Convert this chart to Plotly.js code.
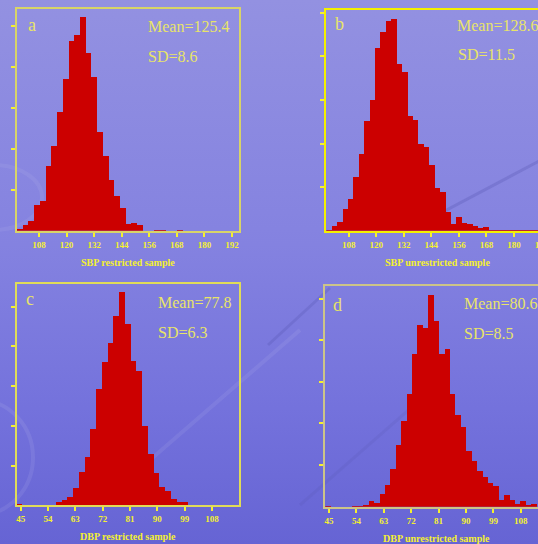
<!DOCTYPE html>
<html>
<head>
<meta charset="utf-8">
<script src="https://cdn.plot.ly/plotly-3.0.1.min.js"></script>
<style>
html,body{margin:0;padding:0;overflow:hidden;width:538px;height:544px;}
body{background:linear-gradient(to bottom,#9391e1 0%,#8482e0 45%,#7472dc 75%,#6664d4 100%);}
#chart{width:560px;height:544px;}
</style>
</head>
<body>
<div id="chart"></div>
<script>
// ---- data ----
// a: SBP restricted sample
const aBinStart = 98.43, aBinWidth = 2.49;
const aCounts = [4,14,24,63,72,158,207,289,369,463,477,521,433,374,240,183,123,85,55,16,19,14,0,0,2.5,2.5,0,0,2.5];
// b: SBP unrestricted sample
const bBinStart = 98.25, bBinWidth = 2.36;
const bCounts = [2,11,20,50,73,123,176,252,300,419,456,482,485,383,365,263,254,199,191,151,97,88,43,16,31,18,15,11,6,8,2,2,1,2,1,1,2,1,1];
// c: DBP restricted sample
const cBinStart = 43.4, cBinWidth = 1.89;
const cCounts = [2.5,0,0,0,0,1,1,9,13,21,44,84,122,192,293,361,409,477,537,456,363,338,200,129,81,46,36,16,9,9];
// d: DBP unrestricted sample
const dBinStart = 43.8, dBinWidth = 1.78;
const dCounts = [2,0,0,0,0,2,2,4,14,10,31,52,91,148,206,271,368,437,429,509,446,368,379,271,220,192,134,110,86,71,57,50,16,28,16,6,14,4,6];

const sbpTicks = [108,120,132,144,156,168,180,192];
const dbpTicks = [45,54,63,72,81,90,99,108];
const yTicks = [100,200,300,400,500];

const panelLetters = ['a','b','c','d'];
const meanLabels = ['Mean=125.4','Mean=128.6','Mean=77.8','Mean=80.6'];
const sdLabels = ['SD=8.6','SD=11.5','SD=6.3','SD=8.5'];
const axisTitles = ['SBP restricted sample','SBP unrestricted sample','DBP restricted sample','DBP unrestricted sample'];

// ---- layout geometry (pixels) ----
const W = 560, H = 544;
const fx = p => p / W;
const fy = p => 1 - p / H;

const panels = [
  {start:aBinStart,width:aBinWidth,counts:aCounts,ticks:sbpTicks,xr:[98.43,195.17],ytop:541,
   px:[17,239.3],py:[9,230.7],line:'#d8d468',letter:[26,25],mean:[146,26.7],sd:[146,56.7]},
  {start:bBinStart,width:bBinWidth,counts:bCounts,ticks:sbpTicks,xr:[98.25,195.07],ytop:507,
   px:[326.3,548.6],py:[9.7,230.7],line:'#f4f000',letter:[333,24],mean:[455,25.7],sd:[456,55]},
  {start:cBinStart,width:cBinWidth,counts:cCounts,ticks:dbpTicks,xr:[43.78,117.0],ytop:556,
   px:[17,239.3],py:[284.3,505.3],line:'#e0dc58',letter:[24,299.3],mean:[156,302],sd:[156,332]},
  {start:dBinStart,width:dBinWidth,counts:dCounts,ticks:dbpTicks,xr:[43.78,116.8],ytop:531,
   px:[325.3,547.6],py:[285.7,506.7],line:'#ccc488',letter:[331,305.3],mean:[461.5,303],sd:[461.5,333]}
];

const data = [];
const layout = {
  width: W, height: H,
  margin:{l:0,r:0,t:0,b:0,pad:0},
  paper_bgcolor:'rgba(0,0,0,0)', plot_bgcolor:'rgba(0,0,0,0)',
  showlegend:false, bargap:0,
  annotations:[], shapes:[]
};

const serif = 'Liberation Serif, Times New Roman, serif';
const tickYellow = '#f4f030';
const textYellow = '#e8e468';

// decorative background strokes
layout.shapes.push(
  {type:'circle',xref:'paper',yref:'paper',x0:fx(-75),x1:fx(33),y0:fy(515),y1:fy(400),line:{color:'rgba(255,255,255,0.08)',width:4},layer:'below'},
  {type:'circle',xref:'paper',yref:'paper',x0:fx(-55),x1:fx(42),y0:fy(230),y1:fy(165),line:{color:'rgba(255,255,255,0.06)',width:4},layer:'below'},
  {type:'line',xref:'paper',yref:'paper',x0:fx(150),y0:fy(460),x1:fx(300),y1:fy(330),line:{color:'rgba(255,255,255,0.07)',width:4},layer:'below'},
  {type:'line',xref:'paper',yref:'paper',x0:fx(405),y0:fy(232),x1:fx(560),y1:fy(150),line:{color:'rgba(70,70,160,0.22)',width:3},layer:'below'},
  {type:'line',xref:'paper',yref:'paper',x0:fx(268),y0:fy(345),x1:fx(330),y1:fy(288),line:{color:'rgba(70,70,160,0.2)',width:3},layer:'below'},
  {type:'line',xref:'paper',yref:'paper',x0:fx(300),y0:fy(505),x1:fx(420),y1:fy(400),line:{color:'rgba(70,70,160,0.12)',width:3},layer:'below'}
);

panels.forEach((p,i) => {
  const n = i + 1;
  const xa = n === 1 ? 'x' : 'x' + n;
  const ya = n === 1 ? 'y' : 'y' + n;
  const xkey = n === 1 ? 'xaxis' : 'xaxis' + n;
  const ykey = n === 1 ? 'yaxis' : 'yaxis' + n;
  const lefts = p.counts.map((c,k) => p.start + k * p.width);
  data.push({
    type:'bar', x:lefts, y:p.counts, width:p.width, offset:0,
    marker:{color:'#cc0000', line:{width:0}},
    xaxis:xa, yaxis:ya, hoverinfo:'skip'
  });
  layout[xkey] = {
    domain:[fx(p.px[0]), fx(p.px[1])], anchor:ya,
    range:p.xr, tickvals:p.ticks, ticktext:p.ticks.map(String),
    ticks:'outside', ticklen:4, tickwidth:2, tickcolor:tickYellow,
    showline:true, linecolor:p.line, linewidth:2, mirror:true,
    showgrid:false, zeroline:false,
    tickfont:{family:serif, size:9, color:tickYellow, weight:'bold'},
    fixedrange:true
  };
  layout[ykey] = {
    domain:[fy(p.py[1]), fy(p.py[0])], anchor:xa,
    range:[0,p.ytop], tickvals:yTicks, showticklabels:false,
    ticks:'outside', ticklen:4, tickwidth:2, tickcolor:tickYellow,
    showline:true, linecolor:p.line, linewidth:2, mirror:true,
    showgrid:false, zeroline:false, fixedrange:true
  };
  const cx = (p.px[0] + p.px[1]) / 2;
  layout.annotations.push(
    {xref:'paper',yref:'paper',x:fx(p.letter[0]),y:fy(p.letter[1]),xanchor:'left',yanchor:'middle',
     text:panelLetters[i],showarrow:false,font:{family:serif,size:18,color:textYellow}},
    {xref:'paper',yref:'paper',x:fx(p.mean[0]),y:fy(p.mean[1]),xanchor:'left',yanchor:'middle',
     text:meanLabels[i],showarrow:false,font:{family:serif,size:16,color:textYellow}},
    {xref:'paper',yref:'paper',x:fx(p.sd[0]),y:fy(p.sd[1]),xanchor:'left',yanchor:'middle',
     text:sdLabels[i],showarrow:false,font:{family:serif,size:16,color:textYellow}},
    {xref:'paper',yref:'paper',x:fx(cx),y:fy(p.py[1] + 31.5),xanchor:'center',yanchor:'middle',
     text:axisTitles[i],showarrow:false,font:{family:serif,size:10,color:tickYellow,weight:'bold'}}
  );
});

Plotly.newPlot('chart', data, layout, {staticPlot:true, displayModeBar:false});
</script>
</body>
</html>
